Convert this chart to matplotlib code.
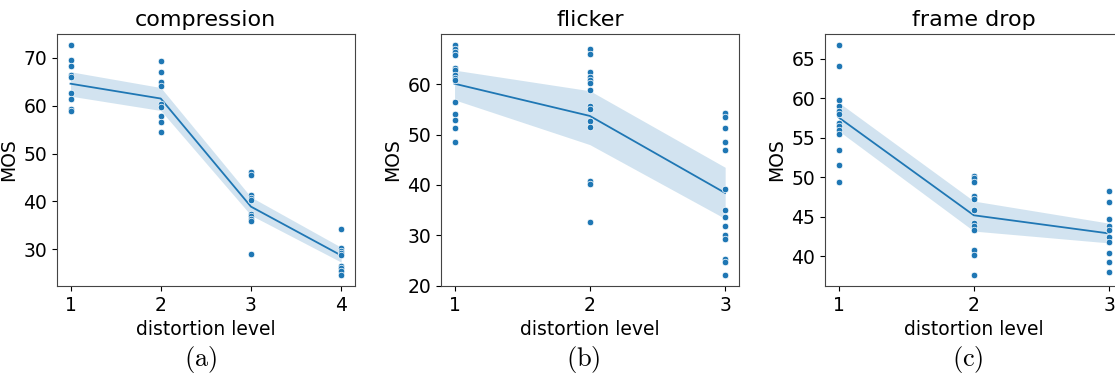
import matplotlib
matplotlib.use('Agg')
import matplotlib.pyplot as plt

plt.rcParams['mathtext.fontset'] = 'cm'

# compression: MOS per distortion level (scatter points)
comp_levels = [1, 2, 3, 4]
comp_points = [
    [72.6, 69.5, 68.3, 66.5, 65.9, 62.6, 61.3, 59.3, 58.8],
    [69.3, 67.1, 65.0, 64.1, 60.4, 59.7, 57.9, 56.6, 54.4],
    [46.1, 45.6, 41.4, 40.7, 40.2, 37.4, 37.0, 36.4, 35.9, 28.9],
    [34.2, 30.2, 29.6, 29.1, 28.8, 26.5, 26.1, 25.5, 24.7],
]
comp_mean = [64.6, 61.5, 38.9, 28.7]
comp_lo = [62.0, 59.0, 37.1, 27.3]
comp_hi = [67.1, 63.8, 40.9, 30.4]
comp_yticks = [30, 40, 50, 60, 70]

# flicker
flick_levels = [1, 2, 3]
flick_points = [
    [67.7, 66.9, 66.4, 65.8, 63.2, 62.8, 61.8, 61.3, 60.8, 56.5, 54.0, 52.8, 51.3, 48.5],
    [66.9, 66.0, 62.5, 61.5, 60.8, 60.3, 58.9, 55.7, 55.0, 52.7, 51.5, 40.8, 40.2, 32.6],
    [54.3, 53.5, 51.3, 48.5, 47.0, 39.2, 35.1, 33.7, 31.9, 30.1, 29.2, 25.3, 24.7, 22.2],
]
flick_mean = [60.1, 53.7, 38.4]
flick_lo = [56.9, 48.0, 33.3]
flick_hi = [62.8, 58.7, 43.5]
flick_yticks = [20, 30, 40, 50, 60]

# frame drop
drop_levels = [1, 2, 3]
drop_points = [
    [66.7, 64.1, 59.8, 59.0, 58.4, 58.0, 56.9, 56.5, 56.0, 55.5, 53.5, 51.6, 49.4],
    [50.2, 49.9, 49.4, 47.7, 47.2, 45.9, 44.2, 43.9, 43.3, 40.8, 40.2, 37.7],
    [48.3, 46.9, 44.7, 43.8, 43.3, 42.5, 41.8, 40.4, 39.3, 38.0],
]
drop_mean = [57.6, 45.2, 42.9]
drop_lo = [55.9, 43.2, 41.7]
drop_hi = [59.5, 47.0, 44.2]
drop_yticks = [40, 45, 50, 55, 60, 65]

titles = ['compression', 'flicker', 'frame drop']
captions = ['(a)', '(b)', '(c)']

panels = [
    (comp_levels, comp_points, comp_mean, comp_lo, comp_hi, comp_yticks),
    (flick_levels, flick_points, flick_mean, flick_lo, flick_hi, flick_yticks),
    (drop_levels, drop_points, drop_mean, drop_lo, drop_hi, drop_yticks),
]

lefts = [0.0511, 0.3955, 0.7399]
caption_x = [0.180, 0.523, 0.868]
color = '#1f77b4'

fig = plt.figure(figsize=(11.15, 3.76), dpi=100)

for i, (levels, points, mean, lo, hi, yt) in enumerate(panels):
    ax = fig.add_axes([lefts[i], 0.2394, 0.2670, 0.6702])
    xs, ys = [], []
    for lv, pts in zip(levels, points):
        xs += [lv] * len(pts)
        ys += pts
    ax.fill_between(levels, lo, hi, color=color, alpha=0.2, linewidth=0)
    ax.plot(levels, mean, color=color, linewidth=1.3)
    ax.scatter(xs, ys, s=22, color=color, edgecolors='white', linewidths=0.5, zorder=3)
    ax.set_xticks(levels)
    ax.set_yticks(yt)
    ax.tick_params(labelsize=13.5)
    for sp in ax.spines.values():
        sp.set_color('#444444')
    ax.set_title(titles[i], fontsize=16)
    ax.set_xlabel('distortion level', fontsize=13.5)
    ax.set_ylabel('MOS', fontsize=13.5)
    fig.text(caption_x[i], 0.045, r'$\mathrm{' + captions[i] + '}$', fontsize=19,
             ha='center', va='center')

fig.savefig('out.png', dpi=100)
